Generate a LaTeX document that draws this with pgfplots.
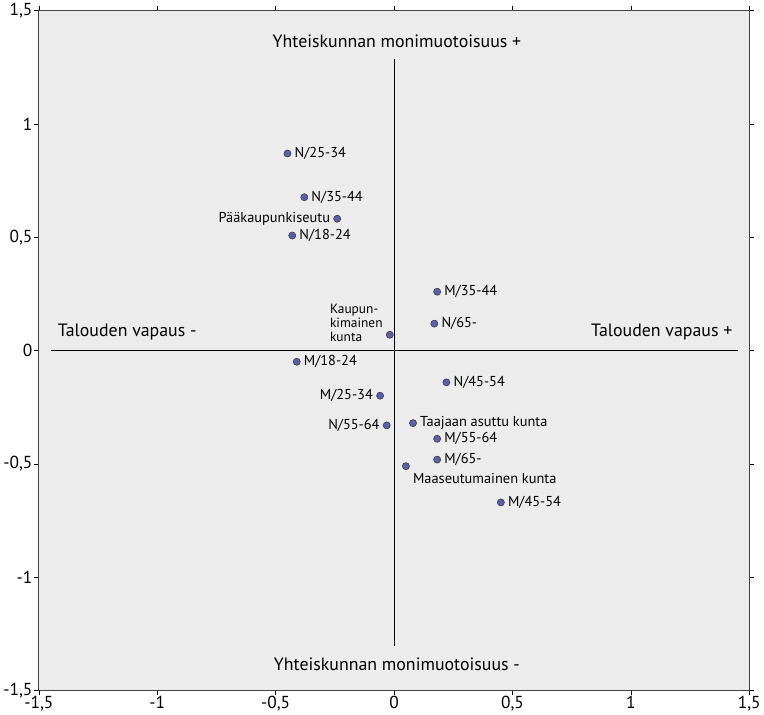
\documentclass[border=0pt]{standalone}
\usepackage{pgfplots}
\pgfplotsset{compat=1.18}
\usepackage{fontspec}
\setmainfont{PT Sans}
\definecolor{bgc}{HTML}{ECECEC}
\definecolor{ptc}{HTML}{5A5FA6}
\newcommand{\kaup}{{\fontsize{13.5}{14}\selectfont\begin{tabular}{@{}l@{}}Kaupun-\\kimainen\\kunta\end{tabular}}}
\begin{document}
\begin{tikzpicture}
\begin{axis}[
  scale only axis,
  width=716.7pt, height=685.7pt,
  xmin=-1.5, xmax=1.5, ymin=-1.5, ymax=1.5,
  xtick={-1.5,-1,-0.5,0,0.5,1,1.5},
  ytick={-1.5,-1,-0.5,0,0.5,1,1.5},
  /pgf/number format/.cd, use comma, fixed, assume math mode=true,
  /pgfplots/.cd,
  tick label style={font=\fontsize{17.5}{19}\selectfont},
  tick align=outside,
  major tick length=5pt,
  tick style={black, line width=0.6pt},
  axis background/.style={fill=bgc},
  axis line style={line width=0.8pt, draw=black!75},
  xticklabel style={yshift=3pt},
  yticklabel style={xshift=2pt},
  clip=false,
  visualization depends on={value \thisrow{anchor} \as \myanchor},
  visualization depends on={value \thisrow{dy} \as \mydy},
  nodes near coords,
  point meta=explicit symbolic,
  every node near coord/.style={anchor=\myanchor, yshift=\mydy pt, font=\fontsize{14.5}{12.5}\selectfont, inner sep=7pt},
]
\draw[black, line width=0.8pt] (axis cs:0,1.285) -- (axis cs:0,-1.304);
\draw[black, line width=0.8pt] (axis cs:-1.449,0) -- (axis cs:1.451,0);
\node[font=\fontsize{18}{20}\selectfont] at (axis cs:0.012,1.364) {Yhteiskunnan monimuotoisuus +};
\node[font=\fontsize{18}{20}\selectfont] at (axis cs:0.012,-1.383) {Yhteiskunnan monimuotoisuus -};
\node[font=\fontsize{18}{20}\selectfont] at (axis cs:-1.127,0.082) {Talouden vapaus -};
\node[font=\fontsize{18}{20}\selectfont] at (axis cs:1.13,0.082) {Talouden vapaus +};
\addplot[only marks, mark=*, mark size=3.6pt, mark options={fill=ptc, draw=black!80, line width=0.5pt}]
  table[x=x, y=y, meta=label, col sep=semicolon] {
x;y;label;anchor;dy
-0.450;0.870;N/25-34;west;0
-0.379;0.677;N/35-44;west;0
-0.240;0.582;{Pääkaupunkiseutu\hspace{9pt}};east;0
-0.430;0.508;N/18-24;west;0
0.182;0.260;M/35-44;west;0
-0.018;0.070;\kaup;south east;-18
0.170;0.119;N/65-;west;0
-0.411;-0.049;M/18-24;west;0
0.221;-0.140;N/45-54;west;0
-0.059;-0.199;{M/25-34\hspace{2pt}};east;0
-0.031;-0.330;{N/55-64\hspace{2pt}};east;0
0.080;-0.320;Taajaan asuttu kunta;west;0
0.182;-0.389;M/55-64;west;0
0.182;-0.481;M/65-;west;0
0.050;-0.510;{Maaseutumainen kunta};north west;0
0.451;-0.670;M/45-54;west;0
};
\end{axis}
\end{tikzpicture}
\end{document}
